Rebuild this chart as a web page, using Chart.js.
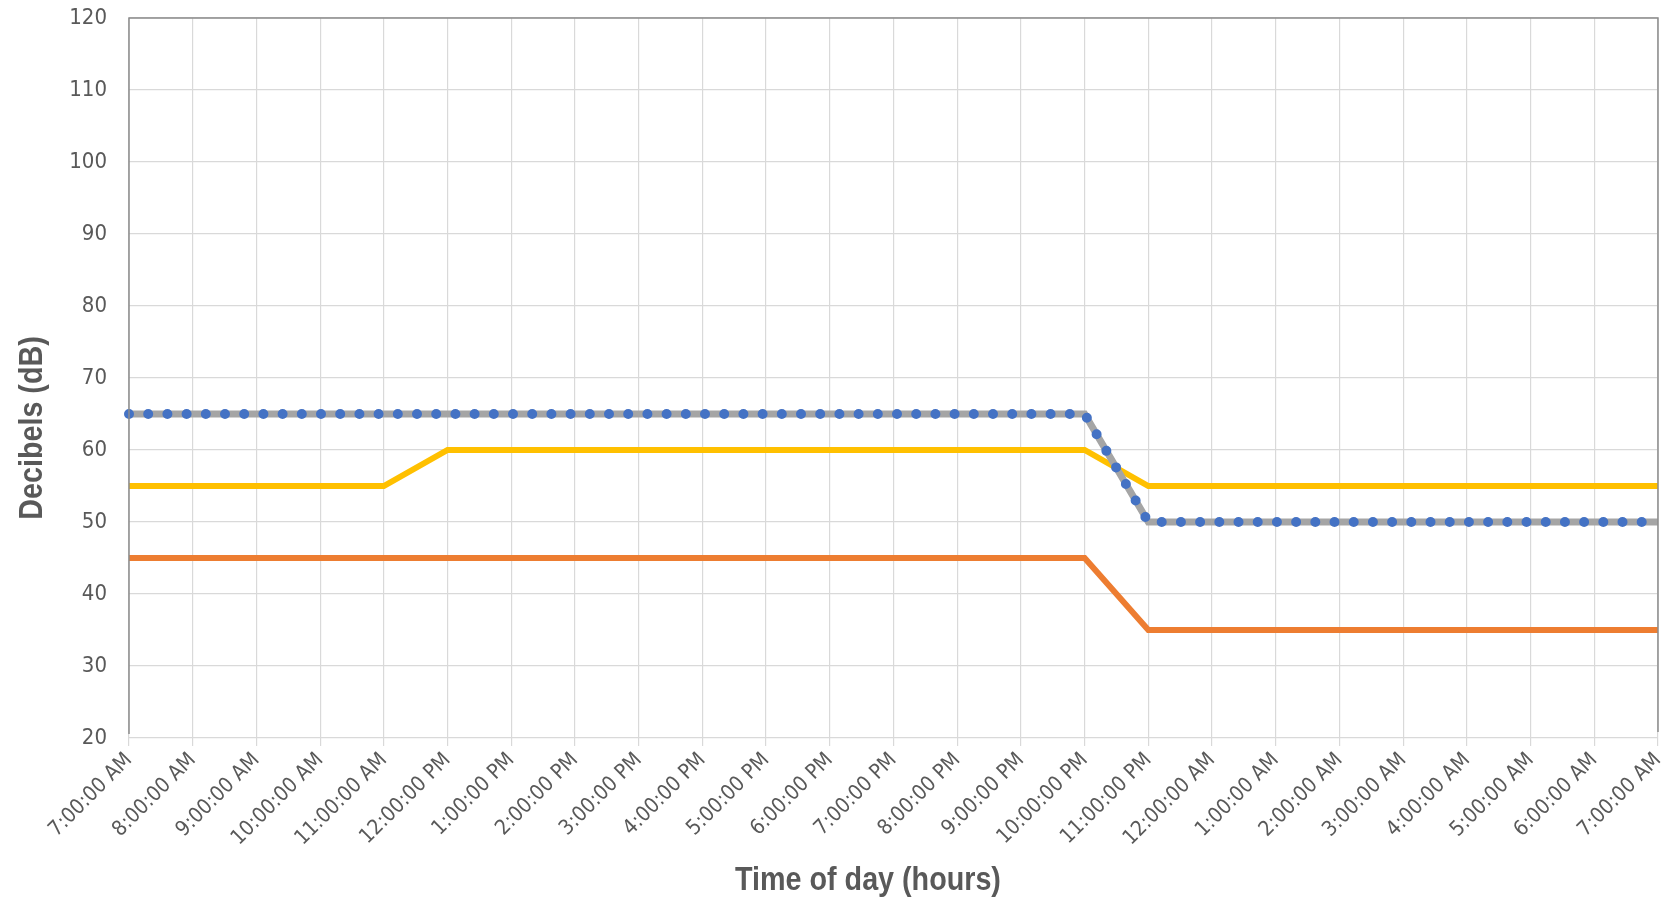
<!DOCTYPE html>
<html>
<head>
<meta charset="utf-8">
<script src="https://cdn.jsdelivr.net/npm/chart.js@4/dist/chart.umd.min.js"></script>
<style>
html,body{margin:0;padding:0;background:#fff;}
#wrap{width:1675px;height:900px;position:relative;}
</style>
</head>
<body>
<div id="wrap"><canvas id="c" width="1675" height="900"></canvas></div>
<script>
const timeLabels = ["7:00:00 AM","8:00:00 AM","9:00:00 AM","10:00:00 AM","11:00:00 AM","12:00:00 PM","1:00:00 PM","2:00:00 PM","3:00:00 PM","4:00:00 PM","5:00:00 PM","6:00:00 PM","7:00:00 PM","8:00:00 PM","9:00:00 PM","10:00:00 PM","11:00:00 PM","12:00:00 AM","1:00:00 AM","2:00:00 AM","3:00:00 AM","4:00:00 AM","5:00:00 AM","6:00:00 AM","7:00:00 AM"];
const limitValues = [65,65,65,65,65,65,65,65,65,65,65,65,65,65,65,65,50,50,50,50,50,50,50,50,50];
const yellowValues = [55,55,55,55,55,60,60,60,60,60,60,60,60,60,60,60,55,55,55,55,55,55,55,55,55];
const orangeValues = [45,45,45,45,45,45,45,45,45,45,45,45,45,45,45,45,35,35,35,35,35,35,35,35,35];
const yTitle = "Decibels (dB)";
const xTitle = "Time of day (hours)";

const TICKFONT = "'DejaVu Sans Condensed','Liberation Sans',sans-serif";
const TITLEFONT = "'Liberation Sans',Arial,sans-serif";

const titlesPlugin = {
  id: 'titles',
  afterDraw(chart) {
    const ctx = chart.ctx;
    ctx.save();
    ctx.fillStyle = '#595959';
    ctx.font = "bold 33px " + TITLEFONT;
    ctx.textAlign = 'center';
    ctx.textBaseline = 'middle';
    ctx.save();
    ctx.translate(868, 881);
    ctx.scale(0.87, 1);
    ctx.fillText(xTitle, 0, 0);
    ctx.restore();
    ctx.save();
    ctx.translate(33, 428);
    ctx.rotate(-Math.PI/2);
    ctx.scale(0.87, 1);
    ctx.fillText(yTitle, 0, 0);
    ctx.restore();
    ctx.restore();
    // border
    const a = chart.chartArea;
    ctx.save();
    ctx.strokeStyle = '#8c8c8c';
    ctx.lineWidth = 1.5;
    ctx.beginPath();
    ctx.moveTo(a.left, a.bottom - 4);
    ctx.lineTo(a.left, a.top);
    ctx.lineTo(a.right, a.top);
    ctx.lineTo(a.right, a.bottom - 6);
    ctx.stroke();
    ctx.restore();
  }
};

new Chart(document.getElementById('c'), {
  type: 'line',
  data: {
    labels: timeLabels,
    datasets: [
      {label:'dots', data: limitValues, borderColor:'#4472C4', borderWidth:10, borderDash:[0,19.2], borderCapStyle:'round', pointRadius:0, tension:0, order:0},
      {label:'limit', data: limitValues, borderColor:'#A5A5A5', borderWidth:7, pointRadius:0, tension:0, order:1},
      {label:'yellow', data: yellowValues, borderColor:'#FFC000', borderWidth:6, pointRadius:0, tension:0, order:2},
      {label:'orange', data: orangeValues, borderColor:'#ED7D31', borderWidth:6, pointRadius:0, tension:0, order:3}
    ]
  },
  options: {
    responsive: false,
    animation: false,
    layout: { padding: { top: 18, right: 17, left: 0, bottom: 0 } },
    plugins: { legend: { display: false }, tooltip: { enabled: false } },
    scales: {
      x: {
        offset: false,
        grid: { color: '#D9D9D9', lineWidth: 1.2, drawTicks: true, tickLength: 8, tickColor:'#D9D9D9' },
        border: { display: false },
        ticks: { color: '#595959', font: { family: TICKFONT, size: 21 }, maxRotation: 45, minRotation: 45, autoSkip: false, padding: 2 },
        afterFit(scale) { scale.height = 162; scale.paddingRight = 0; scale.paddingLeft = 0; }
      },
      y: {
        min: 20, max: 120,
        grid: { color: '#D9D9D9', lineWidth: 1.2, drawTicks: false },
        border: { display: false },
        ticks: { stepSize: 10, color: '#595959', font: { family: TICKFONT, size: 22 }, padding: 22 },
        afterFit(scale) { scale.width = 129; scale.paddingTop = 0; scale.paddingBottom = 0; }
      }
    }
  },
  plugins: [titlesPlugin]
});
</script>
</body>
</html>
